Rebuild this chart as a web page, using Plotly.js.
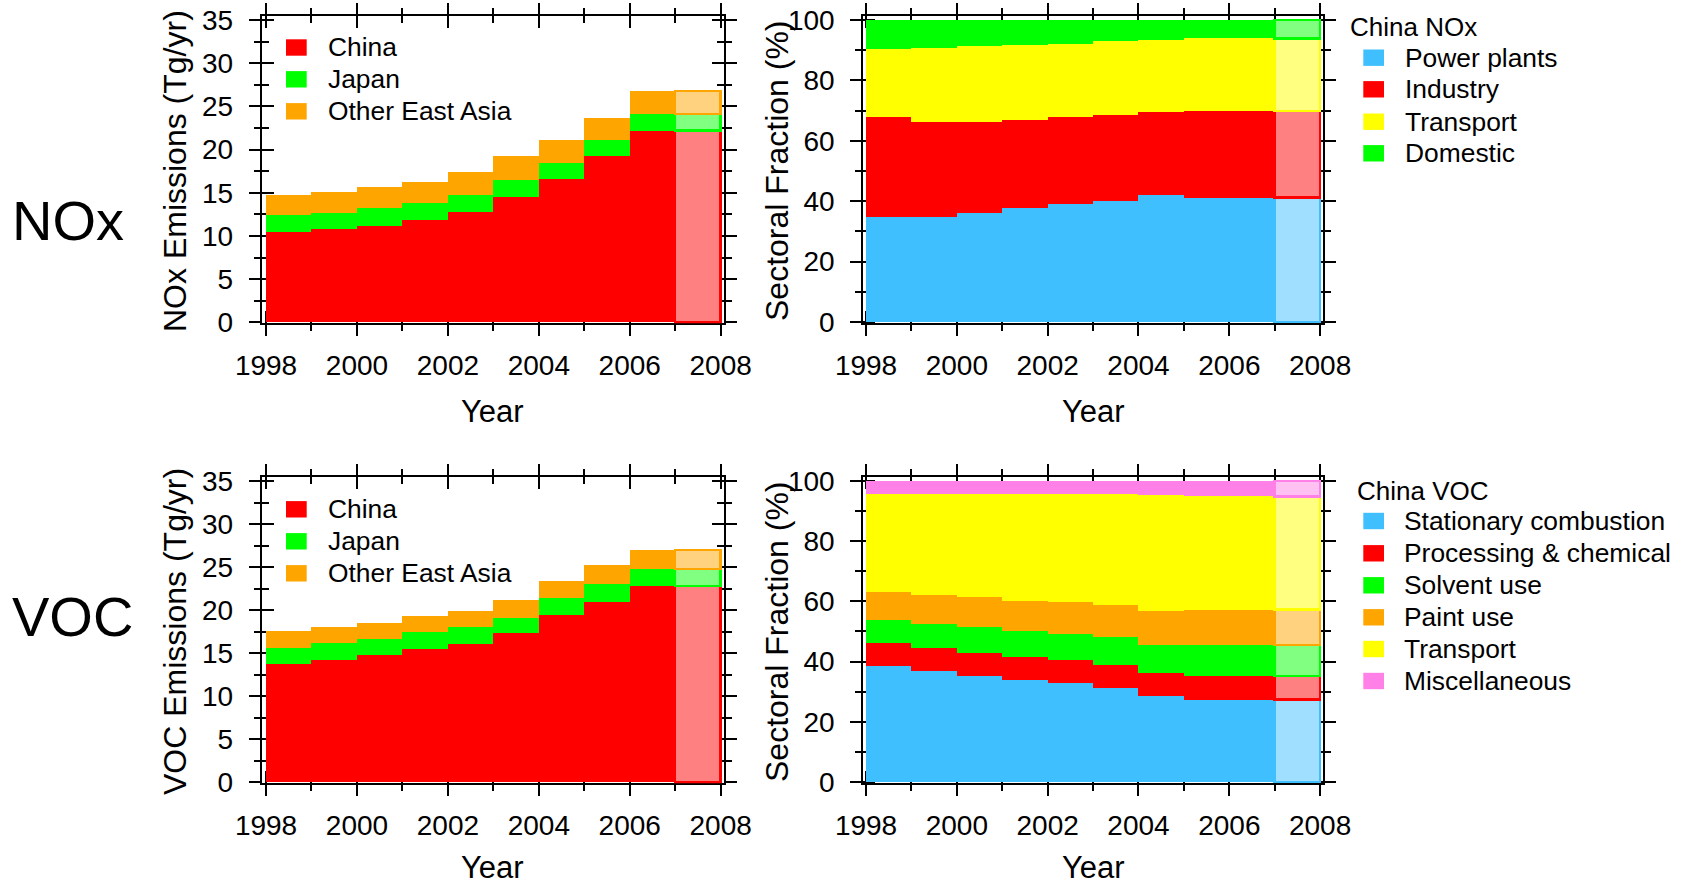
<!DOCTYPE html>
<html>
<head>
<meta charset="utf-8">
<script src="https://cdn.plot.ly/plotly-3.0.1.min.js"></script>
<style>html,body{margin:0;padding:0;background:#fff;}#chart{width:1689px;height:888px;}</style>
</head>
<body>
<div id="chart"></div>
<script>
// ---------------- data ----------------
const years = [1998, 1999, 2000, 2001, 2002, 2003, 2004, 2005, 2006, 2007];
const xTickVals = [1998, 2000, 2002, 2004, 2006, 2008];

// NOx emissions (Tg/yr), stacked
const noxChina = [10.5, 10.8, 11.2, 11.8, 12.8, 14.5, 16.6, 19.3, 22.2, 22.2];
const noxJapan = [1.95, 1.9, 2.0, 2.0, 1.9, 2.0, 1.9, 1.8, 1.9, 1.9];
const noxOther = [2.25, 2.4, 2.5, 2.5, 2.7, 2.7, 2.6, 2.6, 2.7, 2.7];

// VOC emissions (Tg/yr), stacked
const vocChina = [13.8, 14.2, 14.75, 15.5, 16.1, 17.3, 19.4, 21.0, 22.8, 22.8];
const vocJapan = [1.8, 2.0, 1.85, 2.0, 1.9, 1.8, 2.0, 2.0, 2.0, 2.0];
const vocOther = [2.0, 1.8, 1.9, 1.8, 1.9, 2.1, 2.0, 2.2, 2.2, 2.2];

// China NOx sectoral fraction (%)
const noxPower     = [34.9, 34.9, 36.0, 37.9, 39.1, 40.2, 41.9, 41.2, 41.2, 41.2];
const noxIndustry  = [33.0, 31.2, 30.1, 29.1, 28.7, 28.2, 27.5, 28.7, 28.7, 28.7];
const noxTransport = [22.6, 24.6, 25.3, 24.7, 24.2, 24.5, 24.0, 24.0, 24.0, 24.0];
const noxDomestic  = [9.5, 9.3, 8.6, 8.3, 8.0, 7.1, 6.6, 6.1, 6.1, 6.1];

// China VOC sectoral fraction (%)
const vocStationary = [38.7, 36.9, 35.2, 33.9, 32.8, 31.3, 28.6, 27.4, 27.4, 27.4];
const vocProcessing = [7.5, 7.6, 7.8, 7.6, 7.8, 7.6, 7.6, 7.8, 7.8, 7.8];
const vocSolvent    = [7.6, 8.1, 8.5, 8.7, 8.7, 9.3, 9.3, 10.3, 10.3, 10.3];
const vocPaint      = [9.3, 9.5, 9.9, 9.9, 10.5, 10.6, 11.3, 11.8, 11.8, 11.8];
const vocTransport  = [32.7, 33.7, 34.4, 35.7, 35.8, 36.8, 38.4, 37.6, 37.6, 37.6];
const vocMisc       = [4.2, 4.2, 4.2, 4.2, 4.4, 4.4, 4.8, 5.1, 5.1, 5.1];

const regionNames = ['China', 'Japan', 'Other East Asia'];
const noxSectorNames = ['Power plants', 'Industry', 'Transport', 'Domestic'];
const vocSectorNames = ['Stationary combustion', 'Processing & chemical', 'Solvent use', 'Paint use', 'Transport', 'Miscellaneous'];

// ---------------- styling ----------------
const FONT = 'Liberation Sans, Arial, Helvetica, sans-serif';
const C = {
  red:    ['#ff0000', '#ff8080'],
  green:  ['#00ff00', '#80ff80'],
  orange: ['#ffa500', '#ffd280'],
  blue:   ['#40bfff', '#a0dfff'],
  yellow: ['#ffff00', '#ffff80'],
  pink:   ['#ff80e6', '#ffc0f2']
};

function bars(vals, col, name, xa, ya) {
  const n = vals.length;
  return {
    type: 'bar', name: name, x: years, y: vals, width: 1, offset: 0,
    xaxis: xa, yaxis: ya, showlegend: false,
    marker: {
      color: vals.map((v, i) => i === n - 1 ? col[1] : col[0]),
      line: { color: col[0], width: vals.map((v, i) => i === n - 1 ? 2.5 : 0) }
    },
    hovertemplate: name + ' %{x}: %{y}<extra></extra>'
  };
}

const traces = [
  bars(noxChina, C.red, regionNames[0], 'x', 'y'),
  bars(noxJapan, C.green, regionNames[1], 'x', 'y'),
  bars(noxOther, C.orange, regionNames[2], 'x', 'y'),

  bars(noxPower, C.blue, noxSectorNames[0], 'x2', 'y2'),
  bars(noxIndustry, C.red, noxSectorNames[1], 'x2', 'y2'),
  bars(noxTransport, C.yellow, noxSectorNames[2], 'x2', 'y2'),
  bars(noxDomestic, C.green, noxSectorNames[3], 'x2', 'y2'),

  bars(vocChina, C.red, regionNames[0], 'x3', 'y3'),
  bars(vocJapan, C.green, regionNames[1], 'x3', 'y3'),
  bars(vocOther, C.orange, regionNames[2], 'x3', 'y3'),

  bars(vocStationary, C.blue, vocSectorNames[0], 'x4', 'y4'),
  bars(vocProcessing, C.red, vocSectorNames[1], 'x4', 'y4'),
  bars(vocSolvent, C.green, vocSectorNames[2], 'x4', 'y4'),
  bars(vocPaint, C.orange, vocSectorNames[3], 'x4', 'y4'),
  bars(vocTransport, C.yellow, vocSectorNames[4], 'x4', 'y4'),
  bars(vocMisc, C.pink, vocSectorNames[5], 'x4', 'y4')
];
// empty traces so the overlay (outer tick) axes get drawn
for (let k = 5; k <= 8; k++) {
  traces.push({ type: 'scatter', x: [], y: [], xaxis: 'x' + k, yaxis: 'y' + k, showlegend: false, hoverinfo: 'skip' });
}

// ---------------- geometry (px -> paper) ----------------
const W = 1689, H = 888;
const px = v => v / W;
const py = v => 1 - v / H;
const colX = [[261.7, 724.0], [863.3, 1323.3]];
const rowY = [[15.7, 323.3], [476.7, 783.3]];
const xRanges = [[1997.905, 2008.073], [1997.94, 2008.07]];
const yRanges = [[-0.116, 35.5], [-0.43, 101.42]];

function innerX(col, row) {
  return {
    domain: [px(colX[col][0]), px(colX[col][1])], range: xRanges[col],
    anchor: 'y' + (row * 2 + col + 1 === 1 ? '' : row * 2 + col + 1),
    showline: true, linewidth: 2, linecolor: '#000', mirror: 'allticks',
    ticks: 'inside', ticklen: 12, tickwidth: 2, tickcolor: '#000',
    tick0: 1998, dtick: 2,
    minor: { ticks: 'inside', dtick: 1, ticklen: 7, tickwidth: 2, tickcolor: '#000' },
    showticklabels: false, showgrid: false, zeroline: false, layer: 'below traces', fixedrange: true
  };
}
function innerY(col, row) {
  const isPct = col === 1;
  return {
    domain: [py(rowY[row][1]), py(rowY[row][0])], range: yRanges[col],
    anchor: 'x' + (row * 2 + col + 1 === 1 ? '' : row * 2 + col + 1),
    showline: true, linewidth: 2, linecolor: '#000', mirror: 'allticks',
    ticks: 'inside', ticklen: 12, tickwidth: 2, tickcolor: '#000',
    tick0: 0, dtick: isPct ? 20 : 5,
    minor: { ticks: 'inside', dtick: isPct ? 10 : 2.5, ticklen: 7, tickwidth: 2, tickcolor: '#000' },
    showticklabels: false, showgrid: false, zeroline: false, layer: 'below traces', fixedrange: true
  };
}
function outerX(col, row, k, base) {
  return {
    overlaying: base, anchor: 'y' + k, range: xRanges[col],
    showline: false, mirror: 'allticks',
    ticks: 'outside', ticklen: 12, tickwidth: 2, tickcolor: '#000',
    tickmode: 'array', tickvals: xTickVals,
    minor: { ticks: 'outside', dtick: 1, tick0: 1998, ticklen: 7, tickwidth: 2, tickcolor: '#000' },
    ticklabelstandoff: 5,
    tickfont: { family: FONT, size: 28, color: '#000' },
    showgrid: false, zeroline: false, fixedrange: true
  };
}
function outerY(col, row, k, base) {
  const isPct = col === 1;
  return {
    overlaying: base, anchor: 'x' + k, range: yRanges[col],
    showline: false, mirror: 'allticks',
    ticks: 'outside', ticklen: 12, tickwidth: 2, tickcolor: '#000',
    tick0: 0, dtick: isPct ? 20 : 5,
    minor: { ticks: 'outside', dtick: isPct ? 10 : 2.5, ticklen: 7, tickwidth: 2, tickcolor: '#000' },
    ticklabelstandoff: 10,
    tickfont: { family: FONT, size: 28, color: '#000' },
    showgrid: false, zeroline: false, fixedrange: true
  };
}

const layout = {
  width: W, height: H, margin: { l: 0, r: 0, t: 0, b: 0 },
  paper_bgcolor: '#fff', plot_bgcolor: 'rgba(0,0,0,0)',
  barmode: 'stack', showlegend: false,
  font: { family: FONT, color: '#000' },
  xaxis: innerX(0, 0), yaxis: innerY(0, 0),
  xaxis2: innerX(1, 0), yaxis2: innerY(1, 0),
  xaxis3: innerX(0, 1), yaxis3: innerY(0, 1),
  xaxis4: innerX(1, 1), yaxis4: innerY(1, 1),
  xaxis5: outerX(0, 0, 5, 'x'), yaxis5: outerY(0, 0, 5, 'y'),
  xaxis6: outerX(1, 0, 6, 'x2'), yaxis6: outerY(1, 0, 6, 'y2'),
  xaxis7: outerX(0, 1, 7, 'x3'), yaxis7: outerY(0, 1, 7, 'y3'),
  xaxis8: outerX(1, 1, 8, 'x4'), yaxis8: outerY(1, 1, 8, 'y4'),
  shapes: [], annotations: []
};

function txt(text, x, y, size, opts) {
  layout.annotations.push(Object.assign({
    text: text, xref: 'paper', yref: 'paper', x: px(x), y: py(y),
    xanchor: 'center', yanchor: 'middle', showarrow: false, borderpad: 0,
    font: { family: FONT, size: size, color: '#000' }
  }, opts || {}));
}

// axis titles
const panelCx = [(colX[0][0] + colX[0][1]) / 2, (colX[1][0] + colX[1][1]) / 2];
txt('Year', panelCx[0], 412, 31);
txt('Year', panelCx[1], 412, 31);
txt('Year', panelCx[0], 867, 31);
txt('Year', panelCx[1], 867, 31);
txt('NOx Emissions (Tg/yr)', 175, 171, 32, { textangle: -90 });
txt('Sectoral Fraction (%)', 777, 171, 32, { textangle: -90 });
txt('VOC Emissions (Tg/yr)', 175, 632, 32, { textangle: -90 });
txt('Sectoral Fraction (%)', 777, 632, 32, { textangle: -90 });

// big row labels
txt('NOx', 68, 220, 56);
txt('VOC', 72, 616, 56);

// legends (swatch + label)
function legend(names, cols, swX, textX, centers, title, titleX, titleY) {
  if (title) txt(title, titleX, titleY, 26, { xanchor: 'left' });
  names.forEach((nm, i) => {
    const cy = centers[i];
    layout.shapes.push({ type: 'rect', xref: 'paper', yref: 'paper', x0: px(swX[0]), x1: px(swX[1]), y0: py(cy + 8.2), y1: py(cy - 8.2), fillcolor: cols[i][0], line: { width: 0 } });
    txt(nm, textX, cy, 26.4, { xanchor: 'left' });
  });
}
legend(regionNames, [C.red, C.green, C.orange], [286, 306.7], 327, [47.5, 79.3, 111.3]);
legend(regionNames, [C.red, C.green, C.orange], [286, 306.7], 327, [509.3, 541.3, 573.3]);
legend(noxSectorNames, [C.blue, C.red, C.yellow, C.green], [1363.3, 1384], 1404, [57.7, 89.3, 121.7, 153.3], 'China NOx', 1349, 26.7);
legend(vocSectorNames, [C.blue, C.red, C.green, C.orange, C.yellow, C.pink], [1363.3, 1384], 1403, [521, 553.3, 585.3, 617.3, 649, 681], 'China VOC', 1356, 490.7);

Plotly.newPlot('chart', traces, layout, { staticPlot: true, displayModeBar: false });
</script>
</body>
</html>
